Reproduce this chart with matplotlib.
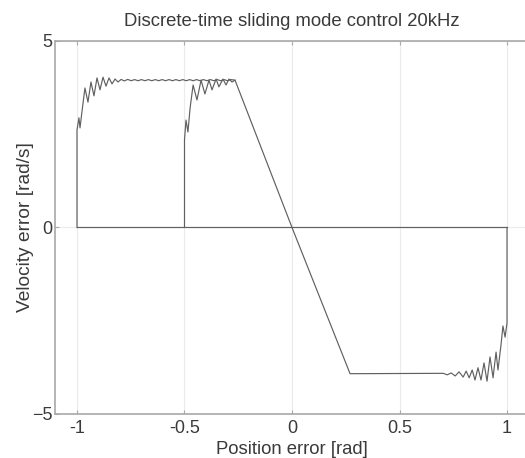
import matplotlib.pyplot as plt

plt.rcParams['font.family'] = ['Liberation Sans', 'DejaVu Sans']

# --- Phase-plane trajectories (position error [rad], velocity error [rad/s]) ---
# start at -1 rad: reaching phase with chattering, then sliding to the origin
traj1_pos = [-1.0, -1.0, -0.991, -0.986, -0.977, -0.963, -0.949, -0.935, -0.921,
             -0.907, -0.893, -0.879, -0.865, -0.851, -0.837, -0.823, -0.809, -0.795,
             -0.780, -0.764, -0.748, -0.732, -0.716, -0.700, -0.684, -0.668, -0.652,
             -0.636, -0.620, -0.604, -0.588, -0.572, -0.556, -0.540, -0.524, -0.508,
             -0.492, -0.476, -0.460, -0.444, -0.428, -0.412, -0.396, -0.380, -0.364,
             -0.348, -0.332, -0.316, -0.300, -0.284, -0.265, 0.0]
traj1_vel = [0.0, 2.61, 2.94, 2.67, 3.10, 3.74, 3.36, 3.90, 3.53,
             4.01, 3.69, 4.03, 3.79, 4.01, 3.85, 3.98, 3.90, 3.97,
             3.93, 3.97, 3.935, 3.965, 3.935, 3.965, 3.935, 3.965, 3.935,
             3.965, 3.935, 3.965, 3.935, 3.965, 3.935, 3.965, 3.935, 3.965,
             3.935, 3.965, 3.935, 3.965, 3.935, 3.965, 3.935, 3.965, 3.935,
             3.965, 3.935, 3.965, 3.935, 3.965, 3.95, 0.0]

# start at -0.5 rad
traj2_pos = [-0.5, -0.5, -0.493, -0.484, -0.474, -0.460, -0.442, -0.423, -0.405,
             -0.386, -0.372, -0.353, -0.340, -0.321, -0.307, -0.293, -0.279, -0.265]
traj2_vel = [0.0, 2.35, 2.88, 2.56, 3.20, 3.82, 3.42, 3.95, 3.58,
             3.95, 3.69, 3.98, 3.77, 3.98, 3.82, 3.98, 3.90, 3.95]

# start at +1 rad
traj3_pos = [1.0, 1.0, 0.991, 0.981, 0.972, 0.958, 0.949, 0.935, 0.921, 0.907,
             0.893, 0.879, 0.865, 0.851, 0.838, 0.824, 0.810, 0.796, 0.777,
             0.759, 0.740, 0.722, 0.703, 0.27, 0.0]
traj3_vel = [0.0, -2.56, -2.94, -2.64, -3.15, -3.82, -3.34, -4.03, -3.47, -4.12,
             -3.63, -4.09, -3.76, -4.09, -3.82, -4.03, -3.85, -4.01, -3.87,
             -3.98, -3.90, -3.95, -3.91, -3.92, 0.0]

# zero-velocity line
zero_pos = [-1.0, 1.0]
zero_vel = [0.0, 0.0]

x_ticks = [-1, -0.5, 0, 0.5, 1]
x_tick_labels = ['-1', '-0.5', '0', '0.5', '1']
y_ticks = [-5, 0, 5]

# --- Plot ---
fig = plt.figure(figsize=(5.25, 4.58), dpi=100)
ax = fig.add_axes([0.1057, 0.0961, 0.901, 0.8144])

line_kw = dict(color='#606060', linewidth=0.85)
ax.plot(zero_pos, zero_vel, **line_kw)
ax.plot(traj1_pos, traj1_vel, **line_kw)
ax.plot(traj2_pos, traj2_vel, **line_kw)
ax.plot(traj3_pos, traj3_vel, **line_kw)

ax.set_xlim(-1.1, 1.1)
ax.set_ylim(-5, 5)
ax.set_xticks(x_ticks)
ax.set_xticklabels(x_tick_labels)
ax.set_yticks(y_ticks)
ax.grid(True, color='#ebebeb', linewidth=0.8)
ax.set_axisbelow(True)

for side in ['left', 'top', 'bottom', 'right']:
    ax.spines[side].set_color('#a8a8a8')
    ax.spines[side].set_linewidth(1.2)
ax.tick_params(direction='in', length=3, color='#a8a8a8', top=True,
               labelsize=13, labelcolor='#3a3a3a')
ax.tick_params(axis='x', pad=4)
ax.tick_params(axis='y', pad=2)

ax.set_title("Discrete-time sliding mode control 20kHz", fontsize=13.3,
             color='#3a3a3a', pad=11)
ax.set_xlabel("Position error [rad]", fontsize=13.3, color='#3a3a3a', labelpad=3)
ax.set_ylabel("Velocity error [rad/s]", fontsize=13.8, color='#3a3a3a', labelpad=-1.5)

plt.savefig("out.png", dpi=100)
